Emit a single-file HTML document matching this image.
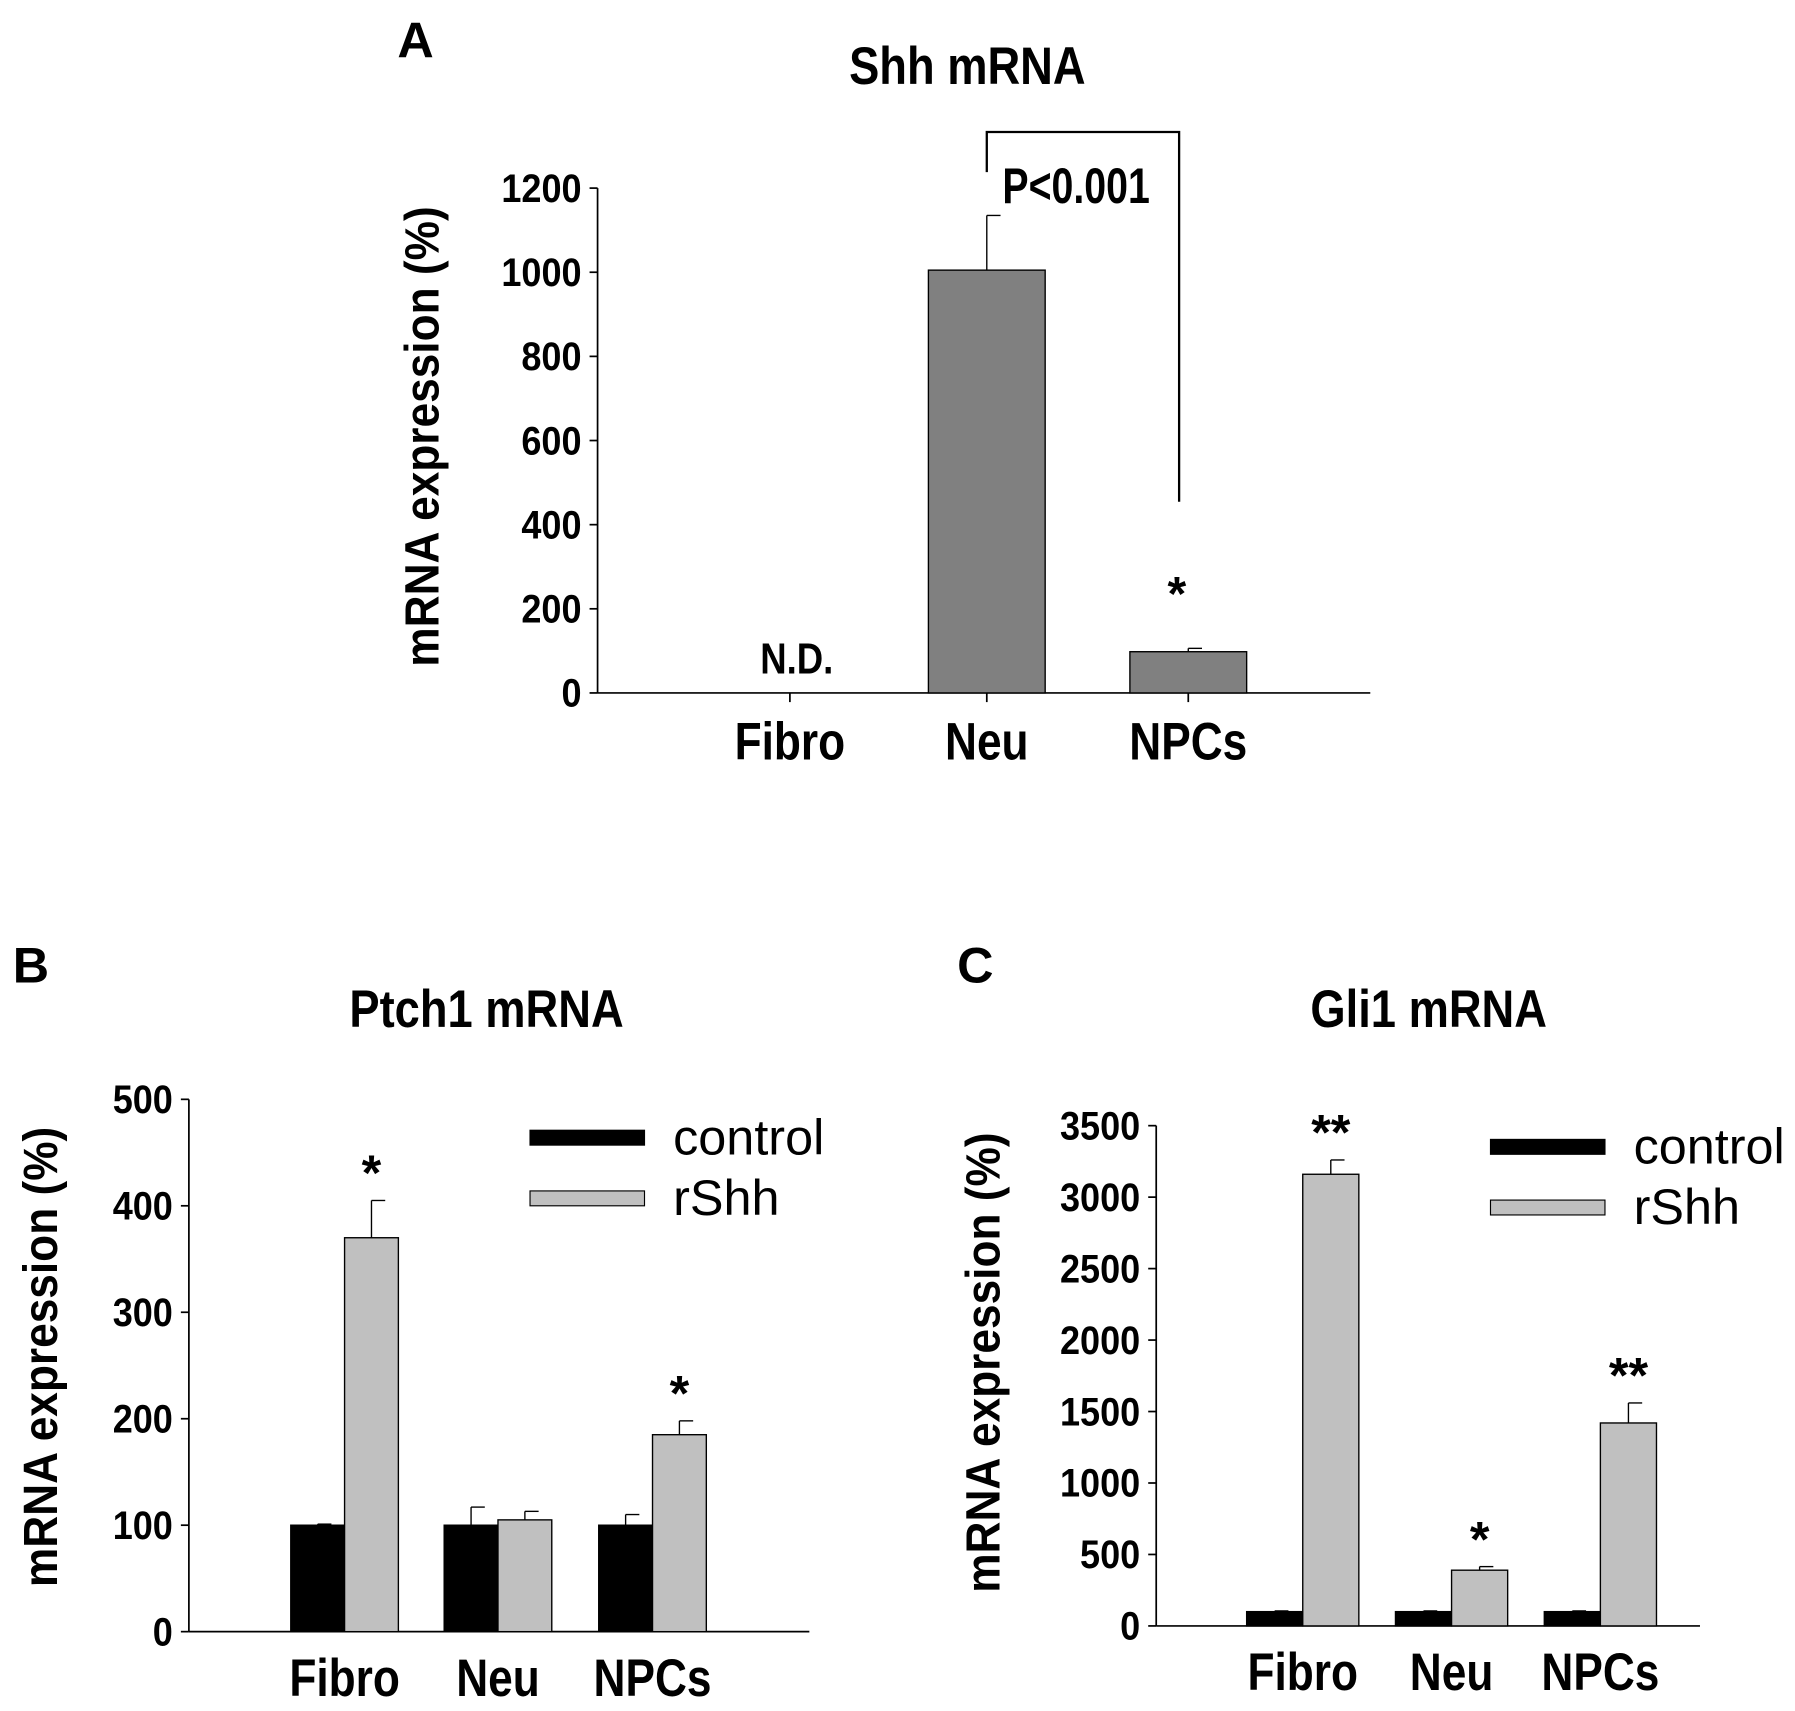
<!DOCTYPE html>
<html><head><meta charset="utf-8"><style>
html,body{margin:0;padding:0;background:#fff;}
svg{display:block;}
text{font-family:"Liberation Sans Narrow","Liberation Sans",sans-serif;font-weight:bold;fill:#000;}
.leg{font-family:"Liberation Sans",sans-serif;font-weight:normal;}
</style></head><body>
<svg id="fig" width="1795" height="1711" viewBox="0 0 1568 1494" xmlns="http://www.w3.org/2000/svg"></svg>
<script>
// Panel A data
const aCategories = ["Fibro","Neu","NPCs"];
const aValues = [null, 1005, 98];
const aErrors = [null, 130, 8];
const aTicks = [0,200,400,600,800,1000,1200];
// Panel B data
const bCategories = ["Fibro","Neu","NPCs"];
const bControl = [100, 100, 100];
const bControlErr = [1, 17, 10];
const bRshh = [370, 105, 185];
const bRshhErr = [35, 8, 13];
const bTicks = [0,100,200,300,400,500];
// Panel C data
const cCategories = ["Fibro","Neu","NPCs"];
const cControl = [100, 100, 100];
const cControlErr = [5, 5, 5];
const cRshh = [3160, 390, 1420];
const cRshhErr = [100, 25, 140];
const cTicks = [0,500,1000,1500,2000,2500,3000,3500];

const NS="http://www.w3.org/2000/svg";
const svg=document.getElementById('fig');
function mk(tag,attrs,parent){const e=document.createElementNS(NS,tag);for(const k in attrs)e.setAttribute(k,attrs[k]);(parent||svg).appendChild(e);return e;}
function txt(s,x,y,size,anchor,parent,cls,sx,rot){
  const t=mk('text',{x:0,y:0,'font-size':size,'text-anchor':anchor||'middle'},parent);
  t.setAttribute('transform','translate('+x+','+y+')'+(rot?' rotate('+rot+')':'')+' scale('+(sx||1)+',1)');
  if(cls)t.setAttribute('class',cls);t.textContent=s;return t;}

function axes(g,x0,x1,y0,yTop,ticks,maxV){
  const ys=v=>y0-(v/maxV)*(y0-yTop);
  mk('line',{x1:x0,y1:y0,x2:x1,y2:y0,stroke:'#000','stroke-width':1.5},g);
  mk('line',{x1:x0,y1:y0,x2:x0,y2:yTop,stroke:'#000','stroke-width':1.5},g);
  ticks.forEach(t=>{
    mk('line',{x1:x0-7,y1:ys(t),x2:x0,y2:ys(t),stroke:'#000','stroke-width':1.5},g);
    const l=txt(String(t),x0-14,ys(t)+12,35,'end',g,null,0.9);
    
    
  });
  return ys;
}
function bar(g,x,w,v,err,ys,fill,name){
  const y0=ys(0),y=ys(v);
  const r=mk('rect',{x:x,y:y,width:w,height:y0-y,fill:fill,stroke:'#000','stroke-width':1.2},g);
  
  
  const cx=x+w/2,ye=ys(v+err);
  mk('line',{x1:cx,y1:y,x2:cx,y2:ye,stroke:'#000','stroke-width':1.2},g);
  mk('line',{x1:cx,y1:ye,x2:cx+12,y2:ye,stroke:'#000','stroke-width':1.2},g);
}

// ---- Panel A
const gA=mk('g',{});


txt('A',363,50,44,'middle',gA);
txt('Shh mRNA',845,73,46,'middle',gA,null,0.86);
const ysA=axes(gA,522,1197,605,164,aTicks,1200);
const aCenters=[690,862,1038];
aCenters.forEach(c=>mk('line',{x1:c,y1:605,x2:c,y2:613,stroke:'#000','stroke-width':1.5},gA));
aValues.forEach((v,i)=>{ if(v!==null) bar(gA,aCenters[i]-51,102,v,aErrors[i],ysA,'#808080','bar-'+aCategories[i].toLowerCase()); });
txt('N.D.',696,588,38,'middle',gA,null,0.84);
aCategories.forEach((c,i)=>txt(c,aCenters[i],663,46,'middle',gA,null,0.84));
const ytA=txt('mRNA expression (%)',383,381,42,'middle',gA,null,0.92,-90);


mk('polyline',{points:'862,150 862,115 1030,115 1030,438',fill:'none',stroke:'#000','stroke-width':2},gA);
txt('P<0.001',940,177,44,'middle',gA,null,0.78);
txt('*',1028,533,42,'middle',gA);

// ---- grouped panel
function grouped(name,label,lx,title,tx,x0,x1,y0,yTop,ticks,maxV,cats,ctrl,ctrlE,rs,rsE,centers,bw,stars,legX,legY,ytx,yty){
  const g=mk('g',{});
  
  
  txt(label,lx,858,44,'middle',g);
  txt(title,tx,897,46,'middle',g,null,0.86);
  const ys=axes(g,x0,x1,y0,yTop,ticks,maxV);
  cats.forEach((c,i)=>{
    bar(g,centers[i]-bw,bw,ctrl[i],ctrlE[i],ys,'#000','bar-control-'+c.toLowerCase());
    bar(g,centers[i],bw,rs[i],rsE[i],ys,'#c0c0c0','bar-rshh-'+c.toLowerCase());
    txt(c,centers[i],y0+56,46,'middle',g,null,0.84);
    if(stars[i]) txt(stars[i],centers[i]+bw/2,ys(rs[i]+rsE[i])-9,44,'middle',g);
  });
  const l1=mk('rect',{x:legX,y:legY,width:100,height:13,fill:'#000',stroke:'#000'},g);
  
  
  const l2=mk('rect',{x:legX,y:legY+53,width:100,height:13,fill:'#c0c0c0',stroke:'#000'},g);
  
  
  txt('control',legX+125,legY+21,44,'start',g,'leg');
  txt('rShh',legX+125,legY+74,44,'start',g,'leg');
  const yt=txt('mRNA expression (%)',ytx,yty,42,'middle',g,null,0.92,-90);
  
  
}
grouped('panel-b','B',27,'Ptch1 mRNA',425,165,707,1425,960,bTicks,500,bCategories,bControl,bControlErr,bRshh,bRshhErr,[301,435,570],47,['*','','*'],463,987,50,1185);
grouped('panel-c','C',852,'Gli1 mRNA',1248,1010,1485,1420,983,cTicks,3500,cCategories,cControl,cControlErr,cRshh,cRshhErr,[1138,1268,1398],49,['**','*','**'],1302,995,873,1190);
</script>
</body></html>
